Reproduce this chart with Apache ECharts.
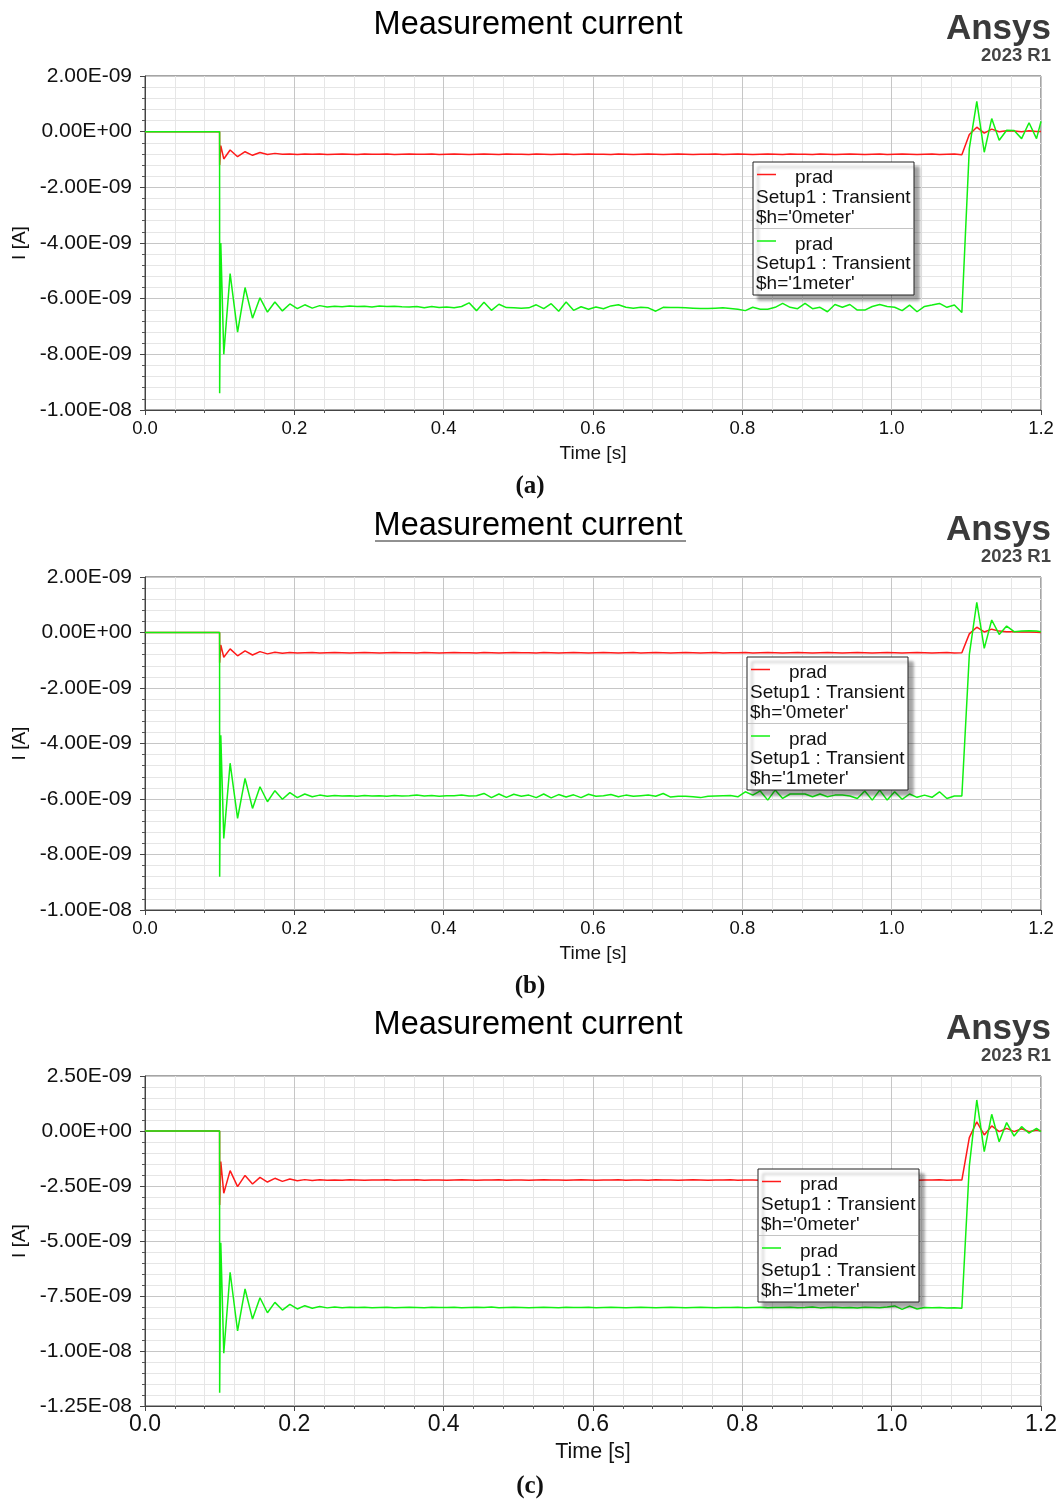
<!DOCTYPE html>
<html>
<head>
<meta charset="utf-8">
<script src="https://cdn.jsdelivr.net/npm/echarts@6/dist/echarts.min.js"></script>
<style>
  html, body { margin: 0; padding: 0; background: #fff; }
  #chart { width: 1056px; height: 1501px; }
</style>
</head>
<body>
<div id="chart"></div>
<script>
// sample times [s], shared by all three runs
const timeS = [0, 0.0999, 0.1, 0.1015, 0.1055,
  0.114, 0.124, 0.134, 0.144, 0.154, 0.164, 0.174, 0.184, 0.194, 0.204,
  0.214, 0.224, 0.234, 0.244, 0.254, 0.264, 0.274, 0.284, 0.294, 0.304,
  0.314, 0.324, 0.334, 0.344, 0.354, 0.364, 0.374, 0.384, 0.394, 0.404,
  0.414, 0.424, 0.434, 0.444, 0.454, 0.464, 0.474, 0.484, 0.494, 0.504,
  0.514, 0.524, 0.534, 0.544, 0.554, 0.564, 0.574, 0.584, 0.594, 0.604,
  0.614, 0.624, 0.634, 0.644, 0.654, 0.664, 0.674, 0.684, 0.694, 0.704,
  0.714, 0.724, 0.734, 0.744, 0.754, 0.764, 0.774, 0.784, 0.794, 0.804,
  0.814, 0.824, 0.834, 0.844, 0.854, 0.864, 0.874, 0.884, 0.894, 0.904,
  0.914, 0.924, 0.934, 0.944, 0.954, 0.964, 0.974, 0.984, 0.994, 1.004,
  1.014, 1.024, 1.034, 1.044, 1.054, 1.064, 1.074, 1.084, 1.094, 1.104,
  1.114, 1.124, 1.134, 1.144, 1.154, 1.164, 1.174, 1.184, 1.194,
  1.2];

// currents in nA (x 1e-9 A)
// (a)
const aH0 = [0, 0, -1.2, -0.5, -0.98,
  -0.66, -0.9, -0.72, -0.85, -0.75, -0.82, -0.78, -0.81, -0.80, -0.82,
  -0.80, -0.81, -0.80, -0.82, -0.81, -0.80, -0.81, -0.82, -0.80, -0.81,
  -0.81, -0.80, -0.82, -0.81, -0.80, -0.81, -0.81, -0.80, -0.82, -0.81,
  -0.80, -0.81, -0.82, -0.81, -0.80, -0.81, -0.82, -0.80, -0.81, -0.81,
  -0.82, -0.80, -0.81, -0.82, -0.81, -0.80, -0.82, -0.81, -0.80, -0.81,
  -0.81, -0.82, -0.80, -0.81, -0.82, -0.81, -0.80, -0.81, -0.82, -0.81,
  -0.80, -0.81, -0.82, -0.81, -0.81, -0.80, -0.82, -0.81, -0.80, -0.81,
  -0.82, -0.81, -0.80, -0.81, -0.82, -0.80, -0.81, -0.81, -0.82, -0.80,
  -0.81, -0.82, -0.81, -0.80, -0.81, -0.82, -0.81, -0.80, -0.82, -0.81,
  -0.80, -0.81, -0.82, -0.81, -0.80, -0.82, -0.81, -0.80, -0.83, -0.10,
  0.16, -0.05, 0.09, 0.0, 0.03, 0.02, 0.0, 0.03, 0.01,
  0.01];
const aH1 = [0, 0, -9.4, -4.0, -8.0,
  -5.1, -7.2, -5.6, -6.7, -5.97, -6.48, -6.12, -6.44, -6.19, -6.36,
  -6.22, -6.34, -6.25, -6.30, -6.27, -6.29, -6.26, -6.28, -6.27, -6.30,
  -6.26, -6.28, -6.27, -6.29, -6.30, -6.28, -6.33, -6.28, -6.32, -6.30,
  -6.33, -6.28, -6.15, -6.43, -6.13, -6.42, -6.20, -6.32, -6.33, -6.34,
  -6.33, -6.22, -6.36, -6.18, -6.45, -6.12, -6.42, -6.29, -6.38, -6.30,
  -6.36, -6.26, -6.22, -6.31, -6.34, -6.31, -6.33, -6.45, -6.31, -6.32,
  -6.32, -6.33, -6.34, -6.35, -6.35, -6.34, -6.33, -6.35, -6.38, -6.43,
  -6.31, -6.38, -6.38, -6.31, -6.17, -6.31, -6.36, -6.17, -6.36, -6.31,
  -6.47, -6.21, -6.31, -6.21, -6.41, -6.41, -6.28, -6.21, -6.28, -6.31,
  -6.43, -6.23, -6.47, -6.28, -6.23, -6.17, -6.31, -6.23, -6.50, -0.6,
  1.09, -0.74, 0.47, -0.31, 0.05, 0.04, -0.25, 0.32, -0.25,
  0.37];
// (b)
const bH0 = [0, 0, -1.09, -0.45, -0.89,
  -0.59, -0.84, -0.66, -0.81, -0.69, -0.77, -0.71, -0.75, -0.72, -0.74,
  -0.73, -0.72, -0.74, -0.73, -0.72, -0.73, -0.74, -0.73, -0.72, -0.73,
  -0.74, -0.73, -0.72, -0.73, -0.73, -0.74, -0.72, -0.73, -0.74, -0.73,
  -0.72, -0.73, -0.73, -0.74, -0.72, -0.73, -0.74, -0.73, -0.72, -0.73,
  -0.73, -0.74, -0.72, -0.73, -0.74, -0.73, -0.72, -0.73, -0.74, -0.73,
  -0.72, -0.73, -0.74, -0.73, -0.72, -0.74, -0.73, -0.72, -0.73, -0.74,
  -0.73, -0.72, -0.73, -0.74, -0.73, -0.72, -0.74, -0.73, -0.73, -0.72,
  -0.74, -0.73, -0.72, -0.73, -0.74, -0.73, -0.72, -0.73, -0.74, -0.73,
  -0.72, -0.73, -0.74, -0.73, -0.72, -0.73, -0.74, -0.73, -0.72, -0.73,
  -0.74, -0.73, -0.72, -0.73, -0.74, -0.73, -0.72, -0.74, -0.73, -0.05,
  0.19, 0.02, 0.12, 0.05, 0.03, 0.03, 0.02, 0.02, 0.01,
  0.0];
const bH1 = [0, 0, -8.8, -3.7, -7.42,
  -4.71, -6.70, -5.26, -6.34, -5.56, -6.10, -5.70, -6.01, -5.77, -5.95,
  -5.82, -5.92, -5.86, -5.90, -5.87, -5.89, -5.88, -5.90, -5.87, -5.89,
  -5.88, -5.90, -5.87, -5.89, -5.88, -5.86, -5.89, -5.87, -5.90, -5.88,
  -5.88, -5.86, -5.89, -5.88, -5.80, -5.95, -5.82, -5.94, -5.83, -5.90,
  -5.86, -5.95, -5.82, -5.96, -5.84, -5.93, -5.85, -5.95, -5.83, -5.90,
  -5.88, -5.84, -5.92, -5.86, -5.90, -5.88, -5.86, -5.90, -5.80, -5.93,
  -5.90, -5.90, -5.92, -5.95, -5.90, -5.89, -5.88, -5.87, -5.92, -5.74,
  -5.86, -5.71, -6.04, -5.68, -5.98, -5.82, -5.82, -5.82, -5.92, -5.82,
  -5.92, -5.86, -5.86, -5.89, -5.98, -5.71, -6.04, -5.68, -6.04, -5.74,
  -6.01, -5.82, -5.94, -5.86, -5.94, -5.74, -5.98, -5.89, -5.89, -0.8,
  1.09, -0.57, 0.45, -0.07, 0.23, 0.03, 0.05, 0.06, 0.05,
  0.03];
// (c)
const cH0 = [0, 0, -3.36, -1.39, -2.83,
  -1.80, -2.53, -2.02, -2.41, -2.11, -2.32, -2.15, -2.29, -2.18, -2.26,
  -2.21, -2.25, -2.22, -2.24, -2.23, -2.24, -2.22, -2.23, -2.24, -2.23,
  -2.23, -2.22, -2.24, -2.23, -2.23, -2.22, -2.24, -2.23, -2.23, -2.24,
  -2.23, -2.22, -2.23, -2.24, -2.23, -2.23, -2.22, -2.24, -2.23, -2.23,
  -2.24, -2.23, -2.22, -2.23, -2.23, -2.24, -2.23, -2.22, -2.23, -2.24,
  -2.23, -2.23, -2.22, -2.24, -2.23, -2.23, -2.24, -2.22, -2.23, -2.23,
  -2.24, -2.23, -2.22, -2.23, -2.24, -2.23, -2.23, -2.22, -2.24, -2.23,
  -2.23, -2.24, -2.22, -2.23, -2.23, -2.24, -2.23, -2.22, -2.23, -2.24,
  -2.23, -2.22, -2.24, -2.23, -2.23, -2.24, -2.22, -2.23, -2.23, -2.24,
  -2.23, -2.22, -2.24, -2.23, -2.23, -2.22, -2.24, -2.23, -2.23, -0.3,
  0.42, -0.18, 0.23, -0.03, 0.12, -0.03, 0.10, -0.03, 0.05,
  0.0];
const cH1 = [0, 0, -11.9, -5.08, -10.1,
  -6.42, -9.09, -7.18, -8.55, -7.58, -8.26, -7.79, -8.14, -7.88, -8.09,
  -7.94, -8.06, -7.98, -8.04, -8.00, -8.03, -8.01, -8.02, -8.01, -8.03,
  -8.02, -8.01, -8.03, -8.02, -8.01, -8.02, -8.03, -8.01, -8.02, -8.02,
  -8.01, -8.03, -8.02, -8.01, -8.02, -8.00, -8.03, -8.02, -8.01, -8.02,
  -8.03, -8.02, -8.01, -8.02, -8.03, -8.01, -8.02, -8.02, -8.01, -8.03,
  -8.02, -8.01, -8.02, -8.03, -8.02, -8.01, -8.02, -8.03, -8.02, -8.01,
  -8.02, -8.03, -8.02, -8.01, -8.02, -8.03, -8.02, -8.02, -8.01, -8.03,
  -8.02, -8.01, -8.03, -8.02, -8.02, -8.01, -8.03, -8.02, -8.00, -8.04,
  -8.02, -8.01, -8.03, -8.02, -8.04, -8.01, -8.02, -8.03, -8.00, -7.95,
  -8.11, -7.96, -8.09, -8.02, -8.03, -8.02, -8.04, -8.03, -8.06, -1.6,
  1.41, -0.94, 0.76, -0.49, 0.38, -0.23, 0.20, -0.10, 0.12,
  -0.03];

// y axis ranges in nA: [min, max, step]
const yRangeA = [-10, 2, 2];
const yRangeB = [-10, 2, 2];
const yRangeC = [-12.5, 2.5, 2.5];

const xTicks = [0, 1.2, 0.2];
const legendNames = ["prad\nSetup1 : Transient\n$h='0meter'", "prad\nSetup1 : Transient\n$h='1meter'"];

const FONT = '"Liberation Sans", Arial, sans-serif';
const RED = '#ff1a1a';
const GREEN = '#12f012';
const TOPZ = 100;

// one entry per panel
const panels = [
  { top: 76, height: 334, y: yRangeA, red: aH0, green: aH1, xFont: 18.5, xName: 19, legend: [753, 162], cap: '(a)', capY: 487 },
  { top: 577, height: 333, y: yRangeB, red: bH0, green: bH1, xFont: 18.5, xName: 19, legend: [747, 657], cap: '(b)', capY: 987 },
  { top: 1076, height: 330, y: yRangeC, red: cH0, green: cH1, xFont: 23, xName: 21.5, legend: [758, 1169], cap: '(c)', capY: 1487 }
];

function sci(v) {
  const s = (v * 1e-9).toExponential(2);
  const parts = s.split('e');
  const n = parseInt(parts[1], 10);
  return parts[0] + 'E' + (n < 0 ? '-' : '+') + String(Math.abs(n)).padStart(2, '0');
}

function zip(ts, vs) {
  return ts.map((t, i) => [t, vs[i]]);
}

function legendBox(x, y) {
  const txt = (tx, ty, s) => ({
    type: 'text', x: x + tx, y: y + ty, z: TOPZ + 2,
    style: { text: s, fontSize: 19, fontFamily: FONT, fill: '#111', align: 'left', verticalAlign: 'middle' }
  });
  const l0 = legendNames[0].split('\n');
  const l1 = legendNames[1].split('\n');
  return [
    { type: 'rect', z: TOPZ, shape: { x: x, y: y, width: 161, height: 133 },
      style: { fill: '#fff', stroke: '#222', lineWidth: 1, shadowBlur: 3, shadowOffsetX: 5, shadowOffsetY: 5, shadowColor: 'rgba(0,0,0,0.35)' } },
    { type: 'line', z: TOPZ + 1, shape: { x1: x + 1, y1: y + 66.5, x2: x + 160, y2: y + 66.5 }, style: { stroke: '#c4c4c4', lineWidth: 1 } },
    { type: 'line', z: TOPZ + 1, shape: { x1: x + 4, y1: y + 12.5, x2: x + 23, y2: y + 12.5 }, style: { stroke: RED, lineWidth: 1.5 } },
    txt(42, 15.5, l0[0]), txt(3, 36, l0[1]), txt(3, 56, l0[2]),
    { type: 'line', z: TOPZ + 1, shape: { x1: x + 4, y1: y + 79, x2: x + 23, y2: y + 79 }, style: { stroke: GREEN, lineWidth: 1.5 } },
    txt(42, 82.5, l1[0]), txt(3, 102, l1[1]), txt(3, 122, l1[2])
  ];
}

const chart = echarts.init(document.getElementById('chart'), null, { renderer: 'canvas' });

const option = {
  animation: false,
  backgroundColor: '#fff',
  title: panels.map(p => ({
    text: 'Measurement current',
    left: 'center',
    top: p.top - 67,
    padding: 0,
    textStyle: { fontSize: 32.5, fontWeight: 'normal', color: '#000', fontFamily: FONT }
  })),
  grid: panels.map(p => ({
    left: 145, right: 15, top: p.top, height: p.height,
    show: true, borderColor: '#4a4a4a', borderWidth: 1, backgroundColor: '#fff',
    containLabel: false, outerBoundsMode: 'none'
  })),
  xAxis: panels.map((p, i) => ({
    type: 'value', gridIndex: i,
    min: xTicks[0], max: xTicks[1], interval: xTicks[2],
    name: 'Time [s]', nameLocation: 'middle', nameGap: p.xFont > 20 ? 35 : 34,
    nameTextStyle: { fontSize: p.xName, color: '#111', fontFamily: FONT },
    axisLine: { show: true, onZero: false, lineStyle: { color: '#444' } },
    axisTick: { show: true, length: 5, lineStyle: { color: '#444' } },
    minorTick: { show: true, splitNumber: 5, length: 3, lineStyle: { color: '#555' } },
    splitLine: { show: true, lineStyle: { color: '#c6c6c6', width: 1 } },
    minorSplitLine: { show: true, lineStyle: { color: '#e6e6e6', width: 1 } },
    axisLabel: { formatter: v => v.toFixed(1), fontSize: p.xFont, color: '#111', fontFamily: FONT, margin: p.xFont > 20 ? 7 : 9 }
  })),
  yAxis: panels.map((p, i) => ({
    type: 'value', gridIndex: i,
    min: p.y[0], max: p.y[1], interval: p.y[2],
    name: 'I [A]', nameLocation: 'middle', nameGap: 110, nameRotate: 90,
    nameTextStyle: { fontSize: 19, color: '#111', fontFamily: FONT },
    axisLine: { show: true, onZero: false, lineStyle: { color: '#444' } },
    axisTick: { show: true, length: 5, lineStyle: { color: '#444' } },
    minorTick: { show: true, splitNumber: 5, length: 3, lineStyle: { color: '#555' } },
    splitLine: { show: true, lineStyle: { color: '#c6c6c6', width: 1 } },
    minorSplitLine: { show: true, lineStyle: { color: '#e6e6e6', width: 1 } },
    axisLabel: { formatter: sci, fontSize: 21, color: '#111', fontFamily: FONT, margin: 13 }
  })),
  series: panels.flatMap((p, i) => [
    { name: legendNames[0], type: 'line', xAxisIndex: i, yAxisIndex: i, data: zip(timeS, p.red),
      showSymbol: false, symbol: 'none', lineStyle: { color: RED, width: 1.5 }, itemStyle: { color: RED } },
    { name: legendNames[1], type: 'line', xAxisIndex: i, yAxisIndex: i, data: zip(timeS, p.green),
      showSymbol: false, symbol: 'none', lineStyle: { color: GREEN, width: 1.5 }, itemStyle: { color: GREEN } }
  ]),
  graphic: [].concat(
    panels.flatMap(p => legendBox(p.legend[0], p.legend[1])),
    panels.flatMap(p => [
      { type: 'text', x: 1051, y: p.top - 47, z: TOPZ,
        style: { text: 'Ansys', fontSize: 35, fontWeight: 'bold', fontFamily: FONT, fill: '#3a3a3a', align: 'right', verticalAlign: 'middle' } },
      { type: 'text', x: 1051, y: p.top - 20, z: TOPZ,
        style: { text: '2023 R1', fontSize: 18.5, fontWeight: 'bold', fontFamily: FONT, fill: '#444', align: 'right', verticalAlign: 'middle' } },
      { type: 'text', x: 530, y: p.capY, z: TOPZ,
        style: { text: p.cap, fontSize: 25, fontWeight: 'bold', fontFamily: '"Liberation Serif", "DejaVu Serif", serif', fill: '#111', align: 'center', verticalAlign: 'middle' } }
    ]),
    [{ type: 'line', z: TOPZ, shape: { x1: 375, y1: 541, x2: 686, y2: 541 }, style: { stroke: '#222', lineWidth: 1 } }]
  )
};

chart.setOption(option);
</script>
</body>
</html>
